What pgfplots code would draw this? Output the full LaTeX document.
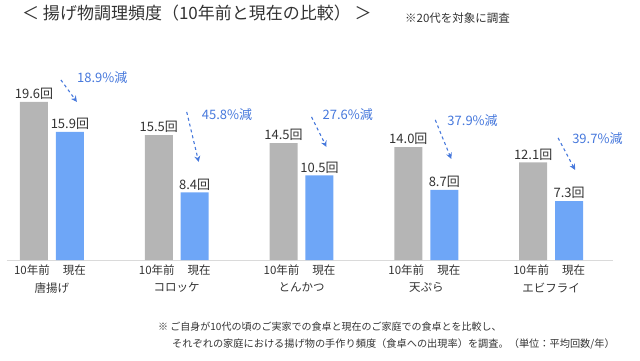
\documentclass[border=0pt]{standalone}
\usepackage{fontspec}
\setmainfont{Noto Sans CJK JP}
\usepackage{pgfplots}
\pgfplotsset{compat=1.18}
\usetikzlibrary{arrows.meta}
\definecolor{barGray}{HTML}{B5B5B5}
\definecolor{barBlue}{HTML}{6EA6F7}
\definecolor{annBlue}{HTML}{4678DC}
\definecolor{lineGray}{HTML}{DADADA}
\definecolor{txt}{HTML}{333333}
\begin{document}
\begin{tikzpicture}
\path[use as bounding box] (0pt,0pt) rectangle (640pt,360pt);
\begin{axis}[
  at={(7pt,100pt)}, anchor=south west,
  scale only axis, width=606pt, height=200pt,
  xmin=-0.36, xmax=4.496, ymin=0, ymax=24.8,
  axis x line=bottom, axis y line=none,
  x axis line style={draw=lineGray, line width=0.8pt, -},
  ybar, bar width=28pt, bar shift=0pt,
  major tick length=0pt,
  /pgf/number format/assume math mode=true,
  xtick={-0.16,0.18,0.84,1.18,1.84,2.18,2.84,3.18,3.84,4.18},
  xticklabels={10年前,現在,10年前,現在,10年前,現在,10年前,現在,10年前,現在},
  x tick label style={font=\fontsize{11.5}{12}\selectfont, text=txt, yshift=-1pt},
  extra x ticks={0,1,2,3,4},
  extra x tick labels={唐揚げ,コロッケ,とんかつ,天ぷら,エビフライ},
  extra x tick style={tick label style={yshift=-18pt}},
  nodes near coords={\pgfmathprintnumber[fixed,fixed zerofill,precision=1,assume math mode=true]{\pgfplotspointmeta}回},
  nodes near coords style={font=\fontsize{13}{13}\selectfont, text=txt, inner sep=2pt},
  clip=false,
]
\addplot[fill=barGray, draw=none] coordinates {(-0.144,19.6) (0.856,15.5) (1.856,14.5) (2.856,14.0) (3.856,12.1)};
\addplot[fill=barBlue, draw=none] coordinates {(0.144,15.9) (1.144,8.4) (2.144,10.5) (3.144,8.7) (4.144,7.3)};
\begin{scope}[annBlue, dashed, line width=1.1pt, -{Stealth[length=6pt,width=6pt]}]
\draw (axis cs:0.072,22.33) -- (axis cs:0.2,19.6);
\draw (axis cs:1.08,18.36) -- (axis cs:1.176,12.16);
\draw (axis cs:2.08,17.74) -- (axis cs:2.2,14.02);
\draw (axis cs:3.072,17.37) -- (axis cs:3.2,12.53);
\draw (axis cs:4.056,15.14) -- (axis cs:4.192,11.17);
\end{scope}
\begin{scope}[every node/.style={anchor=west, text=annBlue, inner sep=0pt, font=\fontsize{13}{13}\selectfont}]
\node at (axis cs:0.2,22.6) {18.9\%減};
\node at (axis cs:1.2,18.0) {45.8\%減};
\node at (axis cs:2.168,18.0) {27.6\%減};
\node at (axis cs:3.168,17.25) {37.9\%減};
\node at (axis cs:4.168,15.0) {39.7\%減};
\end{scope}
\end{axis}
\node[anchor=west, inner sep=0pt, text=txt, font=\fontsize{17}{17}\selectfont] at (22pt,347pt) {＜ 揚げ物調理頻度（10年前と現在の比較） ＞};
\node[anchor=west, inner sep=0pt, text=txt, font=\fontsize{11.5}{12}\selectfont] at (405pt,342pt) {※20代を対象に調査};
\node[anchor=west, inner sep=0pt, text=txt, font=\fontsize{10}{10}\selectfont] at (158pt,33pt) {※ ご自身が10代の頃のご実家での食卓と現在のご家庭での食卓とを比較し、};
\node[anchor=west, inner sep=0pt, text=txt, font=\fontsize{10.2}{10}\selectfont] at (172pt,16pt) {それぞれの家庭における揚げ物の手作り頻度（食卓への出現率）を調査。（単位：平均回数/年）};
\end{tikzpicture}
\end{document}
